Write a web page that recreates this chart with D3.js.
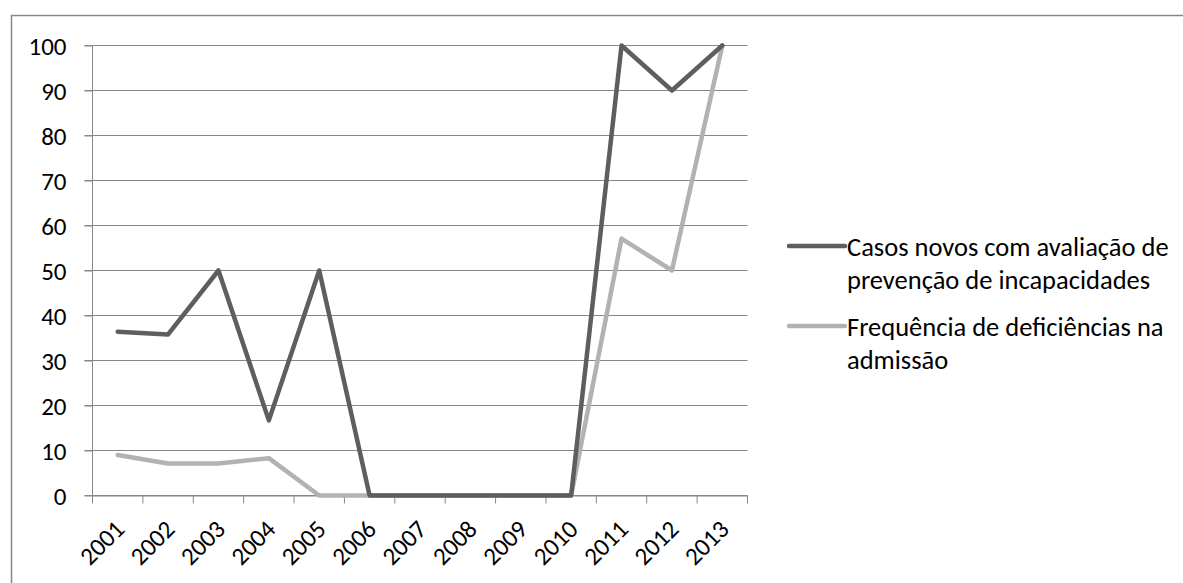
<!DOCTYPE html>
<html>
<head>
<meta charset="utf-8">
<script src="https://cdn.jsdelivr.net/npm/d3@7"></script>
<style>
  html, body { margin: 0; padding: 0; background: #fff; }
  svg { display: block; }
  text { font-family: Carlito, Calibri, "Open Sans", sans-serif; fill: #000; }
</style>
</head>
<body>
<svg id="chart" width="1183" height="583"></svg>
<script>
const years = ["2001","2002","2003","2004","2005","2006","2007","2008","2009","2010","2011","2012","2013"];
const casosNovos = [36.4, 35.8, 50, 16.7, 50, 0, 0, 0, 0, 0, 100, 90, 100];
const frequencia = [9.0, 7.1, 7.1, 8.3, 0, 0, 0, 0, 0, 0, 57.1, 50, 100];
const seriesNames = ["Casos novos com avaliação de prevenção de incapacidades", "Frequência de deficiências na admissão"];
const legendLines = [["Casos novos com avaliação de", "prevenção de incapacidades"], ["Frequência de deficiências na", "admissão"]];
const yTicks = [0, 10, 20, 30, 40, 50, 60, 70, 80, 90, 100];

(function () {
const svg = d3.select("#chart");
const gridColor = "#878787";
const colors = ["#5e5e5e", "#b2b2b2"];

// outer border
svg.append("rect").attr("x", 11.5).attr("y", 15.5).attr("width", 1200).attr("height", 600)
  .attr("fill", "none").attr("stroke", gridColor).attr("stroke-width", 1.5);

const pLeft = 92.5, pRight = 747.5, pTop = 45.5, pBottom = 495.5;
const xBand = d3.scaleBand().domain(years).range([pLeft, pRight]).padding(0);
const x = d => xBand(d) + xBand.bandwidth() / 2;
const y = d3.scaleLinear().domain([0, 100]).range([pBottom, pTop]);

// gridlines
svg.append("g").selectAll("line").data(yTicks).join("line")
  .attr("x1", pLeft - 8).attr("x2", pRight)
  .attr("y1", d => y(d)).attr("y2", d => y(d))
  .attr("stroke", gridColor).attr("stroke-width", 1);

// y axis
const yAxis = svg.append("g").attr("transform", `translate(${pLeft},0)`)
  .call(d3.axisLeft(y).tickValues(yTicks).tickSize(8).tickPadding(18));
yAxis.select(".domain").attr("stroke", gridColor).attr("d", `M0,${pTop}V${pBottom}`);
yAxis.selectAll(".tick line").attr("stroke", gridColor);
yAxis.selectAll(".tick text").style("font-size", "25px").attr("fill", "#000").attr("dy", "0.34em");

// x axis
const xAxis = svg.append("g").attr("transform", `translate(0,${pBottom})`)
  .call(d3.axisBottom(xBand).tickSize(0).tickFormat(""));
xAxis.select(".domain").attr("stroke", gridColor);
xAxis.selectAll(".tick").remove();
const tickPos = years.map(d => xBand(d)).concat([pRight]);
xAxis.append("g").selectAll("line").data(tickPos).join("line")
  .attr("x1", d => d).attr("x2", d => d).attr("y1", 0).attr("y2", 8)
  .attr("stroke", gridColor);
xAxis.append("g").selectAll("text").data(years).join("text")
  .attr("text-anchor", "end")
  .attr("transform", d => `translate(${x(d) + 2},${29}) rotate(-45)`)
  .attr("dy", "0.35em")
  .style("font-size", "25px")
  .text(d => d);

// lines
const line = d3.line().x((d, i) => x(years[i])).y(d => y(d));
[frequencia, casosNovos].forEach((s, k) => {
  svg.append("path").datum(s)
    .attr("fill", "none")
    .attr("stroke", k === 0 ? colors[1] : colors[0])
    .attr("stroke-width", 4.5)
    .attr("stroke-linejoin", "round")
    .attr("stroke-linecap", "round")
    .attr("d", line);
});

// legend
const legY = [246, 326];
[0, 1].forEach(i => {
  const g = svg.append("g");
  g.append("line").attr("x1", 789).attr("x2", 845).attr("y1", legY[i]).attr("y2", legY[i])
    .attr("stroke", colors[i]).attr("stroke-width", 4.5).attr("stroke-linecap", "round");
  g.append("text").attr("x", 847).attr("y", legY[i])
    .style("font-size", "26.5px")
    .selectAll("tspan").data(legendLines[i]).join("tspan")
    .attr("x", 847).attr("dy", (d, j) => j === 0 ? "0.36em" : "33px")
    .text(d => d);
});
})();
</script>
</body>
</html>
